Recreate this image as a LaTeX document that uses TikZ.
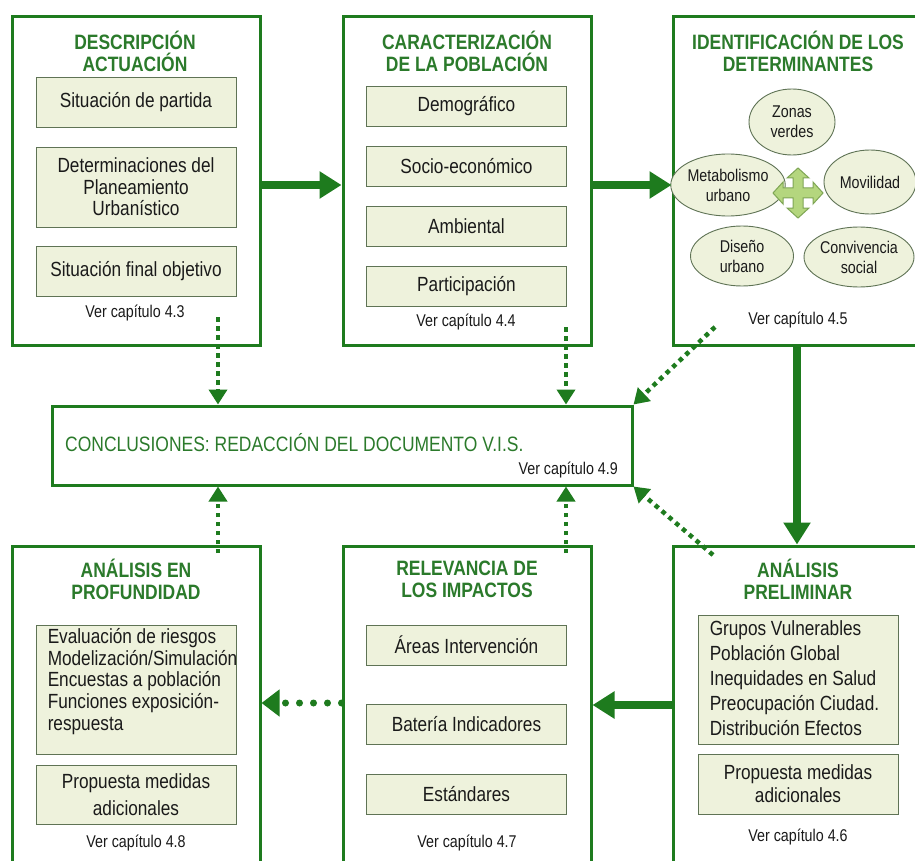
\documentclass[tikz,border=0pt]{standalone}
\usepackage{fontspec}
\setmainfont[FakeStretch=0.84]{Liberation Sans}
\usetikzlibrary{arrows.meta,shapes.geometric,calc}
\definecolor{bgreen}{HTML}{1E7B1E}
\definecolor{tgreen}{HTML}{2B7A2B}
\definecolor{ifill}{HTML}{EEF2DC}
\definecolor{ibord}{HTML}{5F7355}
\definecolor{txt}{HTML}{1A1A1A}
\definecolor{crossfill}{HTML}{B4D67E}
\definecolor{crossbord}{HTML}{7FA655}
\begin{document}
\begin{tikzpicture}[x=1pt,y=-1pt,
  bigbox/.style={draw=bgreen,line width=3pt,minimum width=248pt,minimum height=328pt,inner sep=0pt,fill=white},
  concbox/.style={draw=bgreen,line width=3pt,minimum width=580pt,minimum height=79pt,inner sep=0pt,fill=white},
  innerbox/.style={draw=ibord,fill=ifill,line width=0.9pt,minimum width=200pt,inner sep=0pt,align=center,text=txt,font=\fontsize{20.5}{21.5}\selectfont},
  listtxt/.style={anchor=west,align=left,inner sep=0pt,text=txt},
  ttl/.style={font=\bfseries\fontsize{20.8}{22}\selectfont,text=tgreen,align=center,inner sep=0pt},
  ver/.style={font=\fontsize{17}{20}\selectfont,text=txt,inner sep=0pt},
  ell/.style={ellipse,draw=ibord,fill=ifill,line width=0.9pt,inner sep=0pt,align=center,text=txt,font=\fontsize{17}{20}\selectfont},
  thickarr/.style={draw=bgreen,line width=8pt,-{Triangle[length=22pt,width=26pt]}},
  dotarr/.style={draw=bgreen,line width=4.5pt,dash pattern=on 4.5pt off 4.5pt,-{Triangle[length=15pt,width=18pt]}},
  rdot/.style={draw=bgreen,line width=7pt,line cap=round,dash pattern=on 0pt off 14pt,-{Triangle[length=18pt,width=26pt]}}
]
\useasboundingbox (0,0) rectangle (915,861);
\clip (0,0) rectangle (915,861);
\fill[white] (0,0) rectangle (915,861);

% ---------- top row ----------
\node[bigbox] (b1) at (136,181) {};
\node[ttl] (t1) at (135,51) {DESCRIPCIÓN\\ACTUACIÓN};
\node[innerbox,minimum height=50pt] (b1a) at (136,102) {Situación de partida};
\node[innerbox,minimum height=80pt] (b1b) at (136,187) {Determinaciones del\\Planeamiento\\Urbanístico};
\node[innerbox,minimum height=50pt] (b1c) at (136,271) {Situación final objetivo};
\node[ver] (v1) at (135,313) {Ver capítulo 4.3};

\node[bigbox] (b2) at (467,181) {};
\node[ttl] (t2) at (467,51) {CARACTERIZACIÓN\\DE LA POBLACIÓN};
\node[innerbox,minimum height=40pt] (b2a) at (466.5,106.5) {Demográfico};
\node[innerbox,minimum height=40pt] (b2b) at (466.5,166.5) {Socio-económico};
\node[innerbox,minimum height=40pt] (b2c) at (466.5,226) {Ambiental};
\node[innerbox,minimum height=40pt] (b2d) at (466.5,286) {Participación};
\node[ver] (v2) at (466,322) {Ver capítulo 4.4};

\node[bigbox] (b3) at (797,181) {};
\node[ttl] (t3) at (798,51) {IDENTIFICACIÓN DE LOS\\DETERMINANTES};
\node[ell,minimum width=86pt,minimum height=66pt] (e1) at (792,122) {Zonas\\verdes};
\node[ell,minimum width=94pt,minimum height=62pt] (e2) at (728,185) {Metabolismo\\urbano};
\node[ell,minimum width=92pt,minimum height=64pt] (e3) at (870,182) {Movilidad};
\node[ell,minimum width=103pt,minimum height=60pt] (e4) at (742,256) {Diseño\\urbano};
\node[ell,minimum width=106pt,minimum height=60pt] (e5) at (859,257) {Convivencia\\social};
\draw[fill=crossfill,draw=crossbord,line width=1pt,shift={(798,193)}]
  (0,-25) -- (11,-15) -- (5,-15) -- (5,-5) -- (15,-5) -- (15,-11) -- (25,0) -- (15,11) -- (15,5)
  -- (5,5) -- (5,15) -- (11,15) -- (0,25) -- (-11,15) -- (-5,15) -- (-5,5) -- (-15,5) -- (-15,11)
  -- (-25,0) -- (-15,-11) -- (-15,-5) -- (-5,-5) -- (-5,-15) -- (-11,-15) -- cycle;
\node[ver] (v3) at (798,320) {Ver capítulo 4.5};

% ---------- conclusions ----------
\node[concbox] (concl) at (342,445.5) {};
\node[anchor=west,inner sep=0pt,text=tgreen,font=\fontsize{20.8}{22}\selectfont] (ct) at (65,443) {CONCLUSIONES: REDACCIÓN DEL DOCUMENTO V.I.S.};
\node[ver,anchor=east] (v9) at (618,470) {Ver capítulo 4.9};

% ---------- bottom row ----------
\node[bigbox] (b4) at (136,710) {};
\node[ttl] (t4) at (136,579) {ANÁLISIS EN\\PROFUNDIDAD};
\node[innerbox,minimum height=129pt] (b4a) at (136,689.5) {};
\node[listtxt,font=\fontsize{20.5}{21.7}\selectfont] (b4at) at ($(b4a.west)+(12,-8)$) {Evaluación de riesgos\\Modelización/Simulación\\Encuestas a población\\Funciones exposición-\\respuesta};
\node[innerbox,minimum height=59pt,font=\fontsize{20.5}{27}\selectfont] (b4b) at (136,794.5) {Propuesta medidas\\adicionales};
\node[ver] (v8) at (136,843) {Ver capítulo 4.8};

\node[bigbox] (b5) at (467,710) {};
\node[ttl] (t5) at (467,579) {RELEVANCIA DE\\LOS IMPACTOS};
\node[innerbox,minimum height=40pt] (b5a) at (466.5,645) {Áreas Intervención};
\node[innerbox,minimum height=40pt] (b5b) at (466.5,724) {Batería Indicadores};
\node[innerbox,minimum height=40pt] (b5c) at (466.5,794) {Estándares};
\node[ver] (v7) at (467,843) {Ver capítulo 4.7};

\node[bigbox] (b6) at (797,710) {};
\node[ttl] (t6) at (798,579) {ANÁLISIS\\PRELIMINAR};
\node[innerbox,minimum height=129pt] (b6a) at (798,679.5) {};
\node[listtxt,font=\fontsize{20.5}{25}\selectfont] (b6at) at ($(b6a.west)+(12,-1.5)$) {Grupos Vulnerables\\Población Global\\Inequidades en Salud\\Preocupación Ciudad.\\Distribución Efectos};
\node[innerbox,minimum height=60pt,font=\fontsize{20.5}{23}\selectfont] (b6b) at (798,784) {Propuesta medidas\\adicionales};
\node[ver] (v6) at (798,837) {Ver capítulo 4.6};

% ---------- connectors ----------
\draw[thickarr] (b1.east |- 0,185) -- (b2.west |- 0,185);
\draw[thickarr] (b2.east |- 0,185) -- (b3.west |- 0,185);
\draw[thickarr] (b3.south) -- (b6.north);
\draw[thickarr] (b6.west |- 0,705) -- (b5.east |- 0,705);
\draw[rdot] (b5.west |- 0,703) -- (b4.east |- 0,703);

\coordinate (d1) at (218,317);
\coordinate (d2) at (566,327);
\coordinate (d3) at (715,327);
\coordinate (d4) at (218,553);
\coordinate (d5) at (566,553);
\coordinate (d6) at (713,555);
\draw[dotarr] (d1) -- (concl.north -| d1);
\draw[dotarr] (d2) -- (concl.north -| d2);
\draw[dotarr] (d3) -- (concl.north east);
\draw[dotarr] (d4) -- (concl.south -| d4);
\draw[dotarr] (d5) -- (concl.south -| d5);
\draw[dotarr] (d6) -- (concl.south east);
\end{tikzpicture}
\end{document}
